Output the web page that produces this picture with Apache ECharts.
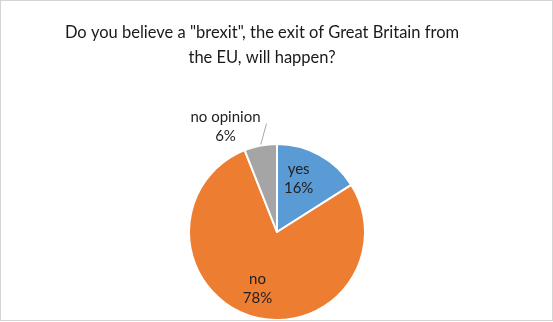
<!DOCTYPE html>
<html>
<head>
<meta charset="utf-8">
<script src="https://cdn.jsdelivr.net/npm/echarts@6/dist/echarts.min.js"></script>
<style>
  html, body { margin: 0; padding: 0; background: #fff; }
  #chart { width: 551px; height: 319px; border: 1px solid #d4d4d4; }
</style>
</head>
<body>
<div id="chart"></div>
<script>
// Survey answers and their shares (percent)
const answers = ['yes', 'no', 'no opinion'];
const shares = [16, 78, 6];
const colors = ['#5B9BD5', '#ED7D31', '#A5A5A5'];
const titleText = 'Do you believe a "brexit", the exit of Great Britain from\nthe EU, will happen?';

const chart = echarts.init(document.getElementById('chart'), null, { renderer: 'canvas' });

const labelFont = { fontFamily: 'Lato', fontSize: 15, color: '#1f1f1f', lineHeight: 19 };

// Inside labels sit a little further out than the default mid-radius
const insideOffsets = [[-1, -12], [-5, 12]];

const data = answers.map((name, i) => {
  const item = { name: name, value: shares[i], itemStyle: { color: colors[i] } };
  if (i < 2) {
    item.label = Object.assign({ position: 'inside', offset: insideOffsets[i] }, labelFont);
    item.labelLine = { show: false };
  } else {
    item.label = Object.assign({ position: 'outside' }, labelFont);
    item.labelLine = { show: true, length: 10, length2: 0, lineStyle: { color: '#a6a6a6', width: 1 } };
  }
  return item;
});

chart.setOption({
  animation: false,
  title: {
    text: titleText,
    left: 256,
    textAlign: 'center',
    top: 14,
    textStyle: { fontFamily: 'Lato', fontSize: 16.5, fontWeight: 'normal', color: '#1a1a1a', lineHeight: 25 }
  },
  series: [{
    type: 'pie',
    center: [276, 231],
    radius: 88,
    startAngle: 90,
    clockwise: true,
    itemStyle: { borderColor: '#fff', borderWidth: 2 },
    label: {
      formatter: p => p.name + '\n' + p.value + '%'
    },
    labelLayout: function (params) {
      if (params.dataIndex !== 2 || !params.labelLinePoints) return {};
      const p0 = params.labelLinePoints[0];
      const end = [p0[0] + 6, p0[1] - 22];
      return {
        x: p0[0] - 35,
        y: p0[1] - 19,
        align: 'center',
        verticalAlign: 'middle',
        labelLinePoints: [p0, end, end]
      };
    },
    data: data
  }]
});
</script>
</body>
</html>
